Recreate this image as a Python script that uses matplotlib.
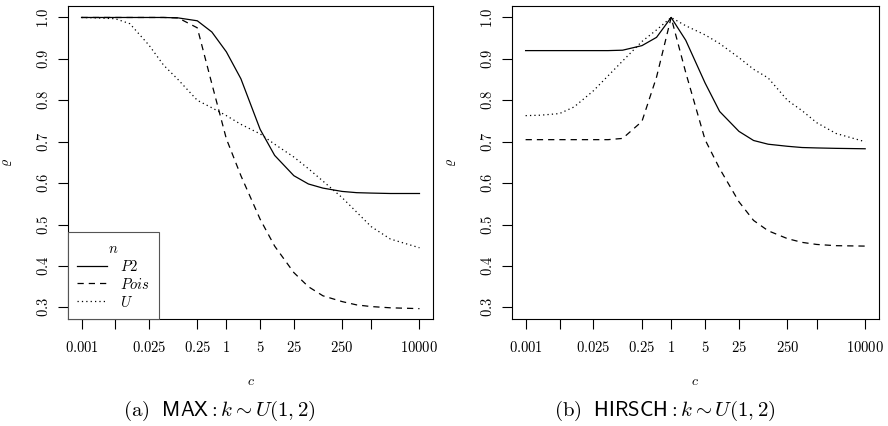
import numpy as np
import matplotlib
matplotlib.use('Agg')
import matplotlib.pyplot as plt

plt.rcParams['mathtext.fontset'] = 'cm'
plt.rcParams['font.family'] = ['DejaVu Serif']

# grid of c values the efficiency was evaluated at
c = [0.001, 0.002, 0.005, 0.01, 0.025, 0.05, 0.1, 0.25, 0.5, 1, 2, 5, 10,
     25, 50, 100, 250, 500, 1000, 2500, 10000]

# MAX aggregation
max_p2 = [1.0, 1.0, 1.0, 1.0, 1.0, 1.0, 0.999, 0.992, 0.965, 0.917, 0.852,
          0.73, 0.667, 0.618, 0.598, 0.588, 0.58, 0.577, 0.576, 0.575, 0.575]
max_pois = [1.0, 1.0, 1.0, 1.0, 1.0, 1.0, 0.999, 0.975, 0.84, 0.707, 0.618,
            0.513, 0.448, 0.384, 0.35, 0.328, 0.314, 0.306, 0.302, 0.299, 0.297]
max_u = [1.0, 0.999, 0.997, 0.985, 0.933, 0.885, 0.85, 0.80, 0.782, 0.763,
         0.742, 0.719, 0.694, 0.663, 0.635, 0.605, 0.565, 0.53, 0.495, 0.465, 0.444]

# HIRSCH aggregation
hir_p2 = [0.92, 0.92, 0.92, 0.92, 0.92, 0.92, 0.921, 0.932, 0.952, 1.0, 0.945,
          0.842, 0.773, 0.725, 0.703, 0.694, 0.689, 0.686, 0.685, 0.684, 0.683]
hir_pois = [0.705, 0.705, 0.705, 0.705, 0.705, 0.705, 0.708, 0.749, 0.856, 1.0,
            0.867, 0.705, 0.635, 0.555, 0.51, 0.485, 0.466, 0.457, 0.452, 0.449, 0.448]
hir_u = [0.763, 0.764, 0.768, 0.784, 0.823, 0.859, 0.895, 0.942, 0.97, 1.0,
         0.98, 0.958, 0.937, 0.903, 0.875, 0.854, 0.80, 0.775, 0.746, 0.72, 0.70]

xticks = [0.001, 0.005, 0.025, 0.25, 1, 5, 25, 250, 1000, 10000]
xticklabels = ['0.001', '', '0.025', '0.25', '1', '5', '25', '250', '', '10000']
yticks = [0.3, 0.4, 0.5, 0.6, 0.7, 0.8, 0.9, 1.0]
series = ['P2', 'Pois', 'U']
captions = [r'$\mathrm{(a)}\ \ \mathsf{MAX}: k \sim U(1,2)$',
            r'$\mathrm{(b)}\ \ \mathsf{HIRSCH}: k \sim U(1,2)$']

styles = [dict(linestyle='-'),
          dict(linestyle=(0, (5, 4))),
          dict(linestyle=(0, (1, 2.5)))]

fig = plt.figure(figsize=(8.88, 4.26), dpi=100)
axes = [fig.add_axes([0.0766, 0.2512, 0.411, 0.735]),
        fig.add_axes([0.5766, 0.2512, 0.413, 0.735])]

for ax, data, cap in zip(axes, [(max_p2, max_pois, max_u),
                                (hir_p2, hir_pois, hir_u)], captions):
    for vals, name, st in zip(data, series, styles):
        ax.plot(c, vals, color='black', lw=0.9, label='$%s$' % name, **st)
    ax.set_xscale('log')
    lo, hi = np.log10(0.001), np.log10(10000)
    pad = 0.04 * (hi - lo)
    ax.set_xlim(10 ** (lo - pad), 10 ** (hi + pad))
    ax.set_ylim(0.3 - 0.028, 1.0 + 0.028)
    ax.set_xticks(xticks)
    ax.set_xticklabels(['$%s$' % t if t else '' for t in xticklabels])
    ax.xaxis.set_minor_locator(matplotlib.ticker.NullLocator())
    ax.set_yticks(yticks)
    ax.set_yticklabels(['$%.1f$' % v for v in yticks], rotation=90, va='center')
    ax.tick_params(direction='out', length=7, width=0.8, labelsize=10.5, pad=5)
    ax.tick_params(axis='x', pad=8)
    for sp in ax.spines.values():
        sp.set_linewidth(0.8)
    ax.set_xlabel('$c$', fontsize=10, labelpad=14)
    ax.set_ylabel(r'$\varrho$', fontsize=10, labelpad=16)
    bb = ax.get_position()
    fig.text((bb.x0 + bb.x1) / 2 - 0.035, 0.036, cap, fontsize=15,
             ha='center', va='center')

leg = axes[0].legend(loc='lower left', title='$n$', fontsize=10.5,
                     title_fontsize=10.5, handlelength=2.0, handletextpad=0.9,
                     labelspacing=0.2, borderpad=0.65, borderaxespad=0,
                     fancybox=False, framealpha=1)
leg.get_frame().set_edgecolor('#555555')
leg.get_frame().set_linewidth(0.8)

fig.savefig('out.png', dpi=100)
